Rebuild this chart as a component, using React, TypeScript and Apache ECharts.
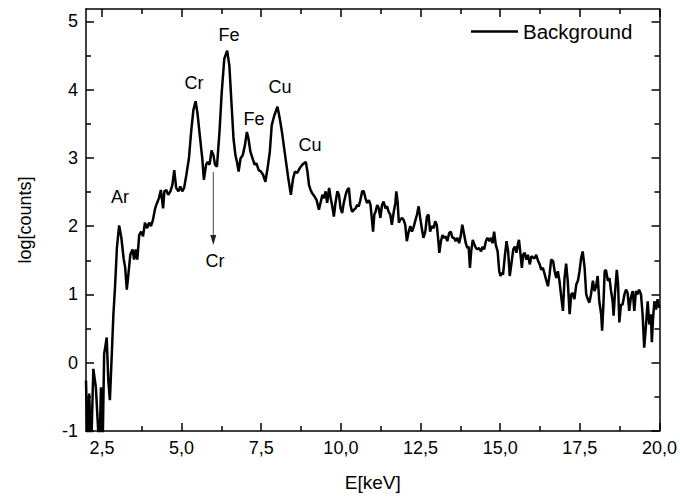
import React, { useEffect, useRef } from "react";
import * as echarts from "echarts";

// X-ray spectrum (background), energy in keV, value = log10(counts)
const energy = [
  2.00, 2.05, 2.10, 2.16, 2.23, 2.31, 2.36, 2.42, 2.47, 2.52, 2.57, 2.65, 2.70, 2.75, 2.81, 2.86, 2.91, 2.97,
  3.04, 3.11, 3.18, 3.23, 3.28, 3.33, 3.39, 3.46, 3.51, 3.56, 3.61, 3.67, 3.73, 3.79, 3.85, 3.92, 3.98,
  4.04, 4.10, 4.17, 4.23, 4.29, 4.35, 4.42, 4.46, 4.52, 4.58, 4.65, 4.71, 4.77, 4.83, 4.90, 4.96,
  5.02, 5.08, 5.15, 5.23, 5.30, 5.37, 5.44, 5.50, 5.56, 5.65, 5.70, 5.77, 5.82, 5.88, 5.94,
  6.00, 6.05, 6.11, 6.19, 6.26, 6.34, 6.43, 6.50, 6.57, 6.63, 6.69, 6.74, 6.79, 6.85, 6.92, 6.99,
  7.05, 7.10, 7.16, 7.23, 7.29, 7.35, 7.42, 7.49, 7.56, 7.63, 7.70, 7.77, 7.83, 7.91,
  8.01, 8.08, 8.15, 8.22, 8.29, 8.35, 8.43, 8.50, 8.56, 8.63, 8.71, 8.79, 8.84, 8.90, 8.95,
  9.00, 9.05, 9.10, 9.18, 9.24, 9.31, 9.36, 9.42, 9.47, 9.52, 9.57, 9.63, 9.68, 9.73, 9.78, 9.83, 9.89, 9.94, 9.99,
  10.04, 10.09, 10.15, 10.20, 10.25, 10.30, 10.35, 10.41, 10.46, 10.51, 10.56, 10.61, 10.67, 10.72, 10.77, 10.82, 10.88, 10.93, 10.98,
  11.01, 11.05, 11.09, 11.14, 11.19, 11.24, 11.29, 11.34, 11.40, 11.45, 11.50, 11.55, 11.60, 11.66, 11.71, 11.74, 11.78, 11.82, 11.86, 11.92, 11.97,
  12.02, 12.07, 12.13, 12.18, 12.23, 12.28, 12.33, 12.39, 12.44, 12.49, 12.54, 12.59, 12.65, 12.70, 12.75, 12.80, 12.85, 12.91, 12.96,
  13.01, 13.06, 13.09, 13.14, 13.19, 13.24, 13.29, 13.34, 13.40, 13.45, 13.50, 13.55, 13.60, 13.66, 13.71, 13.76, 13.81, 13.86, 13.92, 13.97,
  14.01, 14.05, 14.09, 14.14, 14.19, 14.24, 14.29, 14.34, 14.40, 14.45, 14.50, 14.55, 14.60, 14.66, 14.71, 14.76, 14.81, 14.86, 14.92, 14.97,
  15.01, 15.05, 15.09, 15.15, 15.20, 15.25, 15.30, 15.35, 15.41, 15.46, 15.51, 15.56, 15.59, 15.64, 15.68, 15.72, 15.77, 15.82, 15.87, 15.93, 15.98,
  16.03, 16.08, 16.13, 16.19, 16.24, 16.29, 16.34, 16.40, 16.45, 16.50, 16.55, 16.60, 16.66, 16.71, 16.76, 16.81, 16.86, 16.92, 16.97,
  17.02, 17.07, 17.12, 17.18, 17.23, 17.28, 17.33, 17.39, 17.44, 17.49, 17.54, 17.59, 17.65, 17.70, 17.75, 17.80, 17.85, 17.91, 17.96,
  18.01, 18.06, 18.11, 18.17, 18.20, 18.24, 18.28, 18.32, 18.38, 18.43, 18.48, 18.53, 18.56, 18.60, 18.66, 18.70, 18.74, 18.79, 18.84, 18.90, 18.95,
  19.00, 19.05, 19.10, 19.16, 19.21, 19.26, 19.31, 19.36, 19.42, 19.47, 19.52, 19.57, 19.63, 19.68, 19.73, 19.76, 19.80, 19.84, 19.89, 19.94, 19.99,
];

const logCounts = [
  -0.26, -1.3, -0.45, -1.3, -0.09, -0.36, -0.80, -1.3, -0.36, -1.3, 0.13, 0.37, -0.26, -0.55, 0.13, 0.71, 1.10, 1.68,
  2.01, 1.83, 1.53, 1.39, 1.07, 1.29, 1.58, 1.66, 1.51, 1.66, 1.51, 1.87, 1.92, 1.85, 2.05, 1.97, 2.05,
  2.00, 2.09, 2.26, 2.34, 2.41, 2.53, 2.26, 2.51, 2.53, 2.46, 2.51, 2.60, 2.82, 2.56, 2.51, 2.58,
  2.51, 2.56, 2.75, 2.99, 3.38, 3.70, 3.83, 3.65, 3.38, 2.99, 2.68, 2.90, 2.94, 2.90, 3.11,
  3.04, 2.90, 2.87, 3.38, 3.96, 4.45, 4.57, 4.35, 3.77, 3.28, 3.04, 2.94, 2.80, 2.99, 3.04, 3.19,
  3.38, 3.28, 3.09, 2.99, 2.90, 2.92, 2.82, 2.80, 2.75, 2.65, 2.85, 3.09, 3.48, 3.62,
  3.75, 3.58, 3.38, 3.14, 2.90, 2.70, 2.46, 2.70, 2.80, 2.78, 2.85, 2.90, 2.92, 2.94, 2.80,
  2.60, 2.53, 2.48, 2.43, 2.38, 2.24, 2.34, 2.46, 2.41, 2.51, 2.34, 2.56, 2.41, 2.29, 2.14, 2.34, 2.51, 2.46, 2.26,
  2.19, 2.34, 2.46, 2.53, 2.56, 2.31, 2.21, 2.24, 2.26, 2.31, 2.29, 2.38, 2.51, 2.51, 2.41, 2.34, 2.38, 2.31, 2.07,
  1.92, 2.17, 2.21, 2.31, 2.26, 2.12, 2.31, 2.36, 2.26, 2.29, 2.21, 2.17, 2.02, 2.21, 2.34, 2.51, 2.36, 2.05, 2.09, 2.12, 2.09,
  2.02, 1.78, 1.92, 2.00, 1.92, 1.98, 2.07, 2.17, 2.29, 2.12, 1.97, 1.83, 1.92, 2.14, 2.17, 1.92, 2.00, 1.97, 2.07,
  2.02, 1.78, 1.61, 1.78, 1.87, 1.83, 1.85, 1.78, 1.90, 1.92, 1.83, 1.83, 1.78, 1.83, 1.75, 1.85, 2.02, 1.90, 1.75, 1.68,
  1.70, 1.39, 1.63, 1.80, 1.73, 1.68, 1.66, 1.68, 1.63, 1.70, 1.66, 1.78, 1.83, 1.78, 1.83, 1.75, 1.92, 1.73, 1.63, 1.34,
  1.27, 1.32, 1.29, 1.58, 1.78, 1.63, 1.27, 1.44, 1.66, 1.70, 1.61, 1.75, 1.80, 1.58, 1.39, 1.58, 1.61, 1.51, 1.58, 1.44, 1.56,
  1.54, 1.53, 1.58, 1.49, 1.44, 1.36, 1.39, 1.29, 1.20, 1.12, 1.29, 1.51, 1.49, 1.34, 1.24, 1.34, 1.20, 0.95, 0.76,
  1.24, 1.45, 1.20, 0.71, 1.00, 1.02, 0.93, 1.15, 1.20, 1.34, 1.53, 1.63, 1.39, 1.00, 0.93, 0.88, 1.00, 1.20, 1.05,
  1.12, 1.27, 0.90, 0.71, 0.47, 0.85, 1.34, 1.36, 1.20, 1.24, 1.05, 0.90, 0.69, 1.00, 1.36, 1.15, 0.59, 0.85, 0.85, 1.00, 1.07,
  1.02, 0.76, 0.95, 1.05, 0.76, 1.05, 1.00, 1.07, 1.00, 0.71, 0.22, 0.51, 0.90, 0.56, 0.71, 0.30, 0.66, 0.90, 0.78, 0.93, 0.80,
];

const seriesName = "Background";
const xMajorTicks = [2.5, 5, 7.5, 10, 12.5, 15, 17.5, 20];
const xMinorTicks = [3.75, 6.25, 8.75, 11.25, 13.75, 16.25, 18.75];
const yMajorTicks = [-1, 0, 1, 2, 3, 4, 5];
const yMinorTicks = [-0.5, 0.5, 1.5, 2.5, 3.5, 4.5];
const xRange = [2, 20];
const yRange = [-1, 5.18];

const peakLabels = [
  { text: "Ar", x: 120, y: 197 },
  { text: "Cr", x: 194, y: 83 },
  { text: "Fe", x: 229, y: 35 },
  { text: "Fe", x: 254, y: 119 },
  { text: "Cu", x: 280, y: 87 },
  { text: "Cu", x: 310, y: 145 },
  { text: "Cr", x: 215, y: 261 },
];

const FONT = "'Liberation Sans', Arial, Helvetica, sans-serif";

function makeAxis(dim: "x" | "y", position: string, ticks: number[], len: number, showLine: boolean, labels: boolean, extra: any = {}) {
  const range = dim === "x" ? xRange : yRange;
  return {
    type: "value",
    position,
    min: range[0],
    max: range[1],
    splitLine: { show: false },
    axisLine: { show: showLine, onZero: false, lineStyle: { color: "#000", width: 1.5 } },
    axisTick: { show: true, inside: true, length: len, customValues: ticks, lineStyle: { color: "#000", width: 1.5 } },
    axisLabel: labels
      ? {
          show: true,
          customValues: ticks,
          margin: 8,
          color: "#000",
          fontSize: 18,
          fontFamily: FONT,
          formatter: (v: number) => (dim === "x" ? v.toFixed(1).replace(".", ",") : String(v)),
        }
      : { show: false },
    ...extra,
  };
}

export default function App() {
  const ref = useRef<HTMLDivElement>(null);
  useEffect(() => {
    if (!ref.current) return;
    const chart = echarts.init(ref.current, undefined, { renderer: "svg" });
    const data = energy.map((e, i) => [e, logCounts[i]]);
    const graphics: any[] = peakLabels.map((p) => ({
      type: "text",
      x: p.x,
      y: p.y,
      style: { text: p.text, fill: "#000", font: `18px ${FONT}`, align: "center", verticalAlign: "middle" },
    }));
    graphics.push({
      type: "line",
      shape: { x1: 213.3, y1: 172, x2: 213.3, y2: 238 },
      style: { stroke: "#444", lineWidth: 1 },
    });
    graphics.push({
      type: "polygon",
      shape: { points: [[210.3, 235], [216.3, 235], [213.3, 245]] },
      style: { fill: "#222" },
    });
    chart.setOption({
      animation: false,
      backgroundColor: "#fff",
      grid: { left: 86, right: 18, top: 9, bottom: 64, containLabel: false },
      legend: {
        data: [{ name: seriesName, icon: "rect" }],
        left: 466,
        top: 16,
        itemWidth: 47,
        itemHeight: 2.5,
        itemGap: 5,
        itemStyle: { color: "#000" },
        textStyle: { fontSize: 20.5, fontFamily: FONT, color: "#000" },
      },
      xAxis: [
        makeAxis("x", "bottom", xMajorTicks, 8, true, true, {
          name: "E[keV]",
          nameLocation: "middle",
          nameGap: 42,
          nameTextStyle: { fontSize: 19, fontFamily: FONT, color: "#000" },
        }),
        makeAxis("x", "bottom", xMinorTicks, 5, false, false),
        makeAxis("x", "top", xMajorTicks, 8, true, false),
        makeAxis("x", "top", xMinorTicks, 5, false, false),
      ],
      yAxis: [
        makeAxis("y", "left", yMajorTicks, 8, true, true, {
          name: "log[counts]",
          nameLocation: "middle",
          nameGap: 52,
          nameTextStyle: { fontSize: 18, fontFamily: FONT, color: "#000" },
        }),
        makeAxis("y", "left", yMinorTicks, 5, false, false),
        makeAxis("y", "right", yMajorTicks, 8, true, false),
        makeAxis("y", "right", yMinorTicks, 5, false, false),
      ],
      series: [
        {
          name: seriesName,
          type: "line",
          xAxisIndex: 0,
          yAxisIndex: 0,
          data,
          symbol: "none",
          showSymbol: false,
          clip: true,
          lineStyle: { color: "#000", width: 2.5 },
          itemStyle: { color: "#000" },
        },
      ],
      graphic: graphics,
    });
    return () => chart.dispose();
  }, []);
  return <div ref={ref} style={{ position: "fixed", left: 0, top: 0, width: 680, height: 497 }} />;
}
